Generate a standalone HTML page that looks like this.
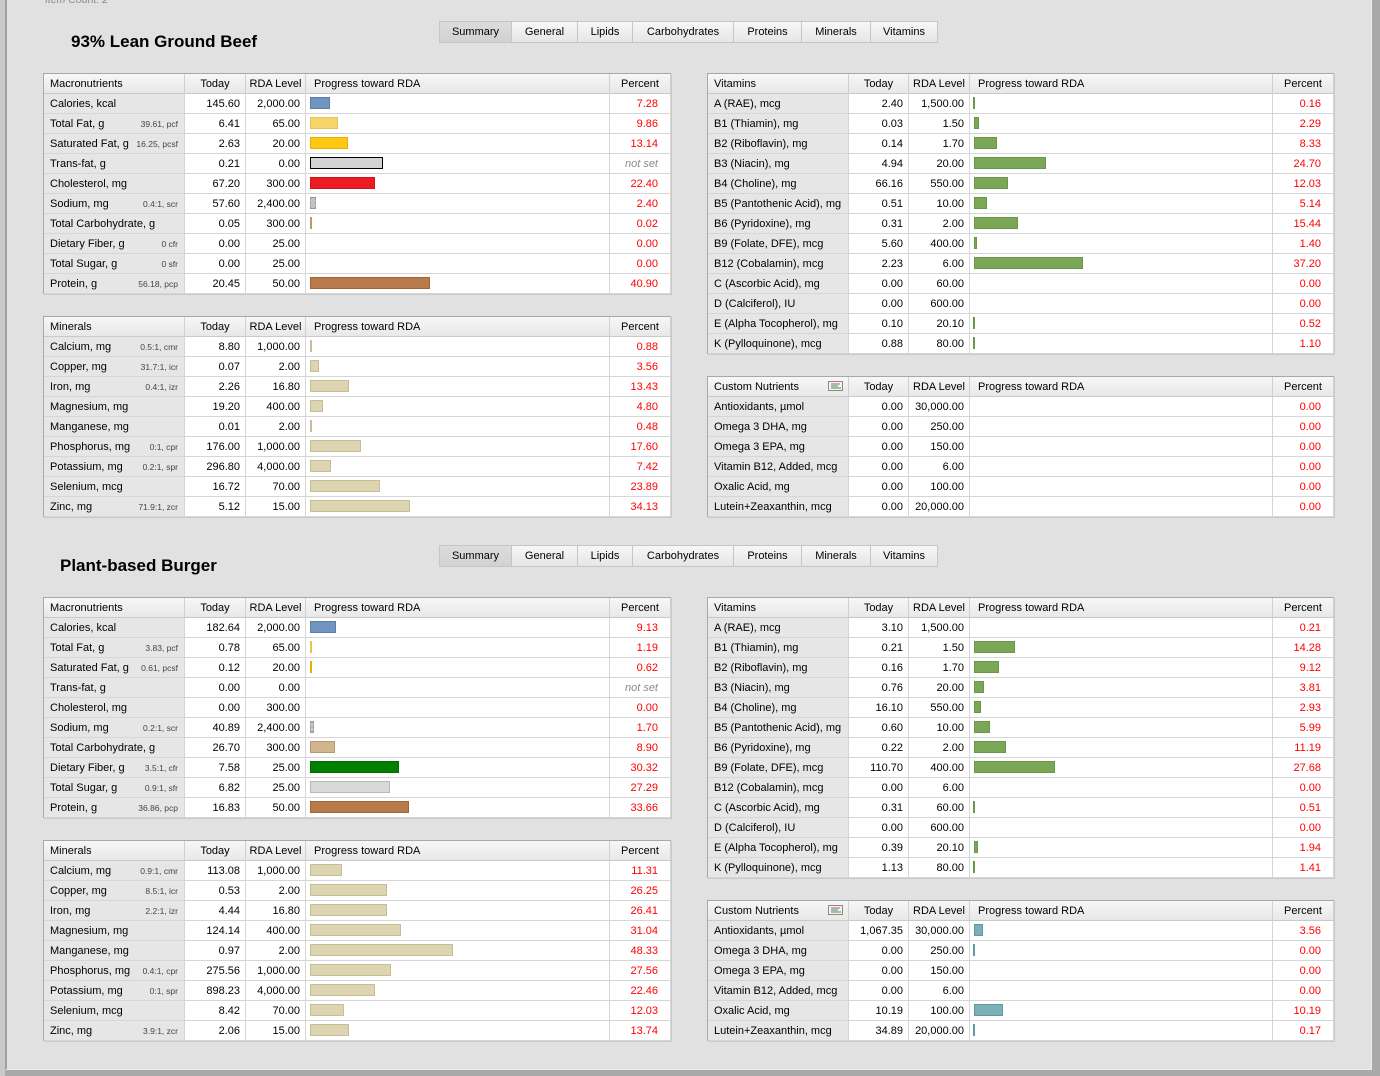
<!DOCTYPE html>
<html><head><meta charset="utf-8">
<style>
html,body{margin:0;padding:0}
body{width:1380px;height:1076px;overflow:hidden;background:#a9a9a9;font-family:"Liberation Sans",sans-serif;font-size:11px;color:#000;position:relative}
#lft{position:absolute;left:0;top:0;width:5px;height:1076px;background:#c9c9c9}
#pnl{position:absolute;left:5px;top:0;width:1364px;height:1069px;background:#e1e1e1;border-left:2px solid #a0a0a0;border-right:1px solid #efefef;border-bottom:1px solid #efefef}
.ic{position:absolute;left:45px;top:-10px;line-height:20px;font-style:italic;color:#8a8a8a;font-size:10.5px}
.ttl{position:absolute;font-weight:bold;font-size:17px;line-height:20px;color:#000}
.tabs{position:absolute;left:439px;display:flex;height:22px}
.tabs div{box-sizing:border-box;height:22px;line-height:21px;text-align:center;border:1px solid #c6c6c6;border-left:none;background:linear-gradient(#f7f7f7,#e6e6e6);font-size:11px}
.tabs div:first-child{border-left:1px solid #c6c6c6;background:linear-gradient(#dcdcdc,#d2d2d2)}
.t{position:absolute;border-top:1px solid #a8a8a8;border-left:1px solid #a8a8a8;box-shadow:1px 1px 0 #cacaca}
.r{display:flex;height:20px}
.r>div{flex:0 0 auto;box-sizing:border-box;height:20px;border-right:1px solid #d6d6d6;border-bottom:1px solid #d6d6d6;line-height:21px;white-space:nowrap;overflow:hidden;position:relative;background:#fff}
.L .c1{width:141px}.L .c2{width:61px}.L .c3{width:60px}.L .c4{width:304px}.L .c5{width:61px}
.R .c1{width:141px}.R .c2{width:60px}.R .c3{width:61px}.R .c4{width:303px}.R .c5{width:61px}
.r .c1{background:#e6e6e6;padding-left:6px}
.r .c2,.r .c3{text-align:right;padding-right:5px}
.r .c5{text-align:right;padding-right:12px;color:#f00}
.r .c5 em{color:#8a8a8a;font-style:italic}
.h>div{background:linear-gradient(#f7f7f7,#e8e8e8)!important;border-right-color:#d0d0d0;border-bottom-color:#c9c9c9}
.h .c2,.h .c3,.h .c5{text-align:center;padding:0}
.r.h .c5{color:#000;padding:0;text-align:center}
.h .c4{padding-left:8px}
.c1 s{text-decoration:none;position:absolute;right:6px;top:0;font-size:8.5px;color:#444}
.b{position:absolute;left:4px;top:3px;height:12px;box-sizing:border-box;border:1px solid}
.cal{background:#7194c0;border-color:#5b7eaa}
.fat{background:#f7d469;border-color:#e9c24f}
.sat{background:#ffc813;border-color:#e6b000}
.trn{background:#d3d3d3;border-color:#000}
.chl{background:#ed1c24;border-color:#d4121a}
.sod{background:#c3c3c3;border:1px dashed #999}
.crb{background:#d1b58e;border-color:#b89a70}
.fib{background:#008000;border-color:#006a00}
.sug{background:#d9d9d9;border-color:#b9b9b9}
.pro{background:#b97a4b;border-color:#9e6536}
.min{background:#ddd4b2;border-color:#c9bd95}
.vit{background:#7aa756;border-color:#6a9848}
.cus{background:#7cb0b8;border-color:#5e9aa3}
.ico{position:absolute;left:120px;top:4px;width:15px;height:10px;box-sizing:border-box;border:1px solid #8a8a8a;background:#f4f4f4}
.ico i{position:absolute;left:2px;height:2px}
</style></head><body>
<div id="lft"></div>
<div id="pnl"></div>
<div class="ic">Item Count: 2</div>

<!-- ===== BLOCK 1 ===== -->
<div class="ttl" style="left:71px;top:32px">93% Lean Ground Beef</div>
<div class="tabs" style="top:21px"><div style="width:73px">Summary</div><div style="width:66px">General</div><div style="width:55px">Lipids</div><div style="width:101px">Carbohydrates</div><div style="width:68px">Proteins</div><div style="width:69px">Minerals</div><div style="width:67px">Vitamins</div></div>

<div class="t L" style="left:43px;top:73px">
<div class="r h"><div class="c1">Macronutrients</div><div class="c2">Today</div><div class="c3">RDA Level</div><div class="c4">Progress toward RDA</div><div class="c5">Percent</div></div>
<div class="r"><div class="c1">Calories, kcal</div><div class="c2">145.60</div><div class="c3">2,000.00</div><div class="c4"><i class="b cal" style="width:20px"></i></div><div class="c5">7.28</div></div>
<div class="r"><div class="c1">Total Fat, g<s>39.61, pcf</s></div><div class="c2">6.41</div><div class="c3">65.00</div><div class="c4"><i class="b fat" style="width:28px"></i></div><div class="c5">9.86</div></div>
<div class="r"><div class="c1">Saturated Fat, g<s>16.25, pcsf</s></div><div class="c2">2.63</div><div class="c3">20.00</div><div class="c4"><i class="b sat" style="width:38px"></i></div><div class="c5">13.14</div></div>
<div class="r"><div class="c1">Trans-fat, g</div><div class="c2">0.21</div><div class="c3">0.00</div><div class="c4"><i class="b trn" style="width:73px"></i></div><div class="c5"><em>not set</em></div></div>
<div class="r"><div class="c1">Cholesterol, mg</div><div class="c2">67.20</div><div class="c3">300.00</div><div class="c4"><i class="b chl" style="width:65px"></i></div><div class="c5">22.40</div></div>
<div class="r"><div class="c1">Sodium, mg<s>0.4:1, scr</s></div><div class="c2">57.60</div><div class="c3">2,400.00</div><div class="c4"><i class="b sod" style="width:6px"></i></div><div class="c5">2.40</div></div>
<div class="r"><div class="c1">Total Carbohydrate, g</div><div class="c2">0.05</div><div class="c3">300.00</div><div class="c4"><i class="b crb" style="width:2px"></i></div><div class="c5">0.02</div></div>
<div class="r"><div class="c1">Dietary Fiber, g<s>0 cfr</s></div><div class="c2">0.00</div><div class="c3">25.00</div><div class="c4"></div><div class="c5">0.00</div></div>
<div class="r"><div class="c1">Total Sugar, g<s>0 sfr</s></div><div class="c2">0.00</div><div class="c3">25.00</div><div class="c4"></div><div class="c5">0.00</div></div>
<div class="r"><div class="c1">Protein, g<s>56.18, pcp</s></div><div class="c2">20.45</div><div class="c3">50.00</div><div class="c4"><i class="b pro" style="width:120px"></i></div><div class="c5">40.90</div></div>
</div>

<div class="t L" style="left:43px;top:316px">
<div class="r h"><div class="c1">Minerals</div><div class="c2">Today</div><div class="c3">RDA Level</div><div class="c4">Progress toward RDA</div><div class="c5">Percent</div></div>
<div class="r"><div class="c1">Calcium, mg<s>0.5:1, cmr</s></div><div class="c2">8.80</div><div class="c3">1,000.00</div><div class="c4"><i class="b min" style="width:2px"></i></div><div class="c5">0.88</div></div>
<div class="r"><div class="c1">Copper, mg<s>31.7:1, icr</s></div><div class="c2">0.07</div><div class="c3">2.00</div><div class="c4"><i class="b min" style="width:9px"></i></div><div class="c5">3.56</div></div>
<div class="r"><div class="c1">Iron, mg<s>0.4:1, izr</s></div><div class="c2">2.26</div><div class="c3">16.80</div><div class="c4"><i class="b min" style="width:39px"></i></div><div class="c5">13.43</div></div>
<div class="r"><div class="c1">Magnesium, mg</div><div class="c2">19.20</div><div class="c3">400.00</div><div class="c4"><i class="b min" style="width:13px"></i></div><div class="c5">4.80</div></div>
<div class="r"><div class="c1">Manganese, mg</div><div class="c2">0.01</div><div class="c3">2.00</div><div class="c4"><i class="b min" style="width:2px"></i></div><div class="c5">0.48</div></div>
<div class="r"><div class="c1">Phosphorus, mg<s>0:1, cpr</s></div><div class="c2">176.00</div><div class="c3">1,000.00</div><div class="c4"><i class="b min" style="width:51px"></i></div><div class="c5">17.60</div></div>
<div class="r"><div class="c1">Potassium, mg<s>0.2:1, spr</s></div><div class="c2">296.80</div><div class="c3">4,000.00</div><div class="c4"><i class="b min" style="width:21px"></i></div><div class="c5">7.42</div></div>
<div class="r"><div class="c1">Selenium, mcg</div><div class="c2">16.72</div><div class="c3">70.00</div><div class="c4"><i class="b min" style="width:70px"></i></div><div class="c5">23.89</div></div>
<div class="r"><div class="c1">Zinc, mg<s>71.9:1, zcr</s></div><div class="c2">5.12</div><div class="c3">15.00</div><div class="c4"><i class="b min" style="width:100px"></i></div><div class="c5">34.13</div></div>
</div>

<div class="t R" style="left:707px;top:73px">
<div class="r h"><div class="c1">Vitamins</div><div class="c2">Today</div><div class="c3">RDA Level</div><div class="c4">Progress toward RDA</div><div class="c5">Percent</div></div>
<div class="r"><div class="c1">A (RAE), mcg</div><div class="c2">2.40</div><div class="c3">1,500.00</div><div class="c4"><i class="b vit" style="width:2px;left:3px"></i></div><div class="c5">0.16</div></div>
<div class="r"><div class="c1">B1 (Thiamin), mg</div><div class="c2">0.03</div><div class="c3">1.50</div><div class="c4"><i class="b vit" style="width:5px"></i></div><div class="c5">2.29</div></div>
<div class="r"><div class="c1">B2 (Riboflavin), mg</div><div class="c2">0.14</div><div class="c3">1.70</div><div class="c4"><i class="b vit" style="width:23px"></i></div><div class="c5">8.33</div></div>
<div class="r"><div class="c1">B3 (Niacin), mg</div><div class="c2">4.94</div><div class="c3">20.00</div><div class="c4"><i class="b vit" style="width:72px"></i></div><div class="c5">24.70</div></div>
<div class="r"><div class="c1">B4 (Choline), mg</div><div class="c2">66.16</div><div class="c3">550.00</div><div class="c4"><i class="b vit" style="width:34px"></i></div><div class="c5">12.03</div></div>
<div class="r"><div class="c1">B5 (Pantothenic Acid), mg</div><div class="c2">0.51</div><div class="c3">10.00</div><div class="c4"><i class="b vit" style="width:13px"></i></div><div class="c5">5.14</div></div>
<div class="r"><div class="c1">B6 (Pyridoxine), mg</div><div class="c2">0.31</div><div class="c3">2.00</div><div class="c4"><i class="b vit" style="width:44px"></i></div><div class="c5">15.44</div></div>
<div class="r"><div class="c1">B9 (Folate, DFE), mcg</div><div class="c2">5.60</div><div class="c3">400.00</div><div class="c4"><i class="b vit" style="width:3px"></i></div><div class="c5">1.40</div></div>
<div class="r"><div class="c1">B12 (Cobalamin), mcg</div><div class="c2">2.23</div><div class="c3">6.00</div><div class="c4"><i class="b vit" style="width:109px"></i></div><div class="c5">37.20</div></div>
<div class="r"><div class="c1">C (Ascorbic Acid), mg</div><div class="c2">0.00</div><div class="c3">60.00</div><div class="c4"></div><div class="c5">0.00</div></div>
<div class="r"><div class="c1">D (Calciferol), IU</div><div class="c2">0.00</div><div class="c3">600.00</div><div class="c4"></div><div class="c5">0.00</div></div>
<div class="r"><div class="c1">E (Alpha Tocopherol), mg</div><div class="c2">0.10</div><div class="c3">20.10</div><div class="c4"><i class="b vit" style="width:2px;left:3px"></i></div><div class="c5">0.52</div></div>
<div class="r"><div class="c1">K (Pylloquinone), mcg</div><div class="c2">0.88</div><div class="c3">80.00</div><div class="c4"><i class="b vit" style="width:2px;left:3px"></i></div><div class="c5">1.10</div></div>
</div>

<div class="t R" style="left:707px;top:376px">
<div class="r h"><div class="c1">Custom Nutrients<span class="ico"><i style="top:1px;width:9px;background:#e4a0a8"></i><i style="top:3px;width:7px;background:#8fc0c6"></i><i style="top:5px;width:10px;background:#9cc58a"></i></span></div><div class="c2">Today</div><div class="c3">RDA Level</div><div class="c4">Progress toward RDA</div><div class="c5">Percent</div></div>
<div class="r"><div class="c1">Antioxidants, µmol</div><div class="c2">0.00</div><div class="c3">30,000.00</div><div class="c4"></div><div class="c5">0.00</div></div>
<div class="r"><div class="c1">Omega 3 DHA, mg</div><div class="c2">0.00</div><div class="c3">250.00</div><div class="c4"></div><div class="c5">0.00</div></div>
<div class="r"><div class="c1">Omega 3 EPA, mg</div><div class="c2">0.00</div><div class="c3">150.00</div><div class="c4"></div><div class="c5">0.00</div></div>
<div class="r"><div class="c1">Vitamin B12, Added, mcg</div><div class="c2">0.00</div><div class="c3">6.00</div><div class="c4"></div><div class="c5">0.00</div></div>
<div class="r"><div class="c1">Oxalic Acid, mg</div><div class="c2">0.00</div><div class="c3">100.00</div><div class="c4"></div><div class="c5">0.00</div></div>
<div class="r"><div class="c1">Lutein+Zeaxanthin, mcg</div><div class="c2">0.00</div><div class="c3">20,000.00</div><div class="c4"></div><div class="c5">0.00</div></div>
</div>

<!-- ===== BLOCK 2 ===== -->
<div class="ttl" style="left:60px;top:556px">Plant-based Burger</div>
<div class="tabs" style="top:545px"><div style="width:73px">Summary</div><div style="width:66px">General</div><div style="width:55px">Lipids</div><div style="width:101px">Carbohydrates</div><div style="width:68px">Proteins</div><div style="width:69px">Minerals</div><div style="width:67px">Vitamins</div></div>

<div class="t L" style="left:43px;top:597px">
<div class="r h"><div class="c1">Macronutrients</div><div class="c2">Today</div><div class="c3">RDA Level</div><div class="c4">Progress toward RDA</div><div class="c5">Percent</div></div>
<div class="r"><div class="c1">Calories, kcal</div><div class="c2">182.64</div><div class="c3">2,000.00</div><div class="c4"><i class="b cal" style="width:26px"></i></div><div class="c5">9.13</div></div>
<div class="r"><div class="c1">Total Fat, g<s>3.83, pcf</s></div><div class="c2">0.78</div><div class="c3">65.00</div><div class="c4"><i class="b fat" style="width:2px"></i></div><div class="c5">1.19</div></div>
<div class="r"><div class="c1">Saturated Fat, g<s>0.61, pcsf</s></div><div class="c2">0.12</div><div class="c3">20.00</div><div class="c4"><i class="b sat" style="width:2px"></i></div><div class="c5">0.62</div></div>
<div class="r"><div class="c1">Trans-fat, g</div><div class="c2">0.00</div><div class="c3">0.00</div><div class="c4"></div><div class="c5"><em>not set</em></div></div>
<div class="r"><div class="c1">Cholesterol, mg</div><div class="c2">0.00</div><div class="c3">300.00</div><div class="c4"></div><div class="c5">0.00</div></div>
<div class="r"><div class="c1">Sodium, mg<s>0.2:1, scr</s></div><div class="c2">40.89</div><div class="c3">2,400.00</div><div class="c4"><i class="b sod" style="width:4px"></i></div><div class="c5">1.70</div></div>
<div class="r"><div class="c1">Total Carbohydrate, g</div><div class="c2">26.70</div><div class="c3">300.00</div><div class="c4"><i class="b crb" style="width:25px"></i></div><div class="c5">8.90</div></div>
<div class="r"><div class="c1">Dietary Fiber, g<s>3.5:1, cfr</s></div><div class="c2">7.58</div><div class="c3">25.00</div><div class="c4"><i class="b fib" style="width:89px"></i></div><div class="c5">30.32</div></div>
<div class="r"><div class="c1">Total Sugar, g<s>0.9:1, sfr</s></div><div class="c2">6.82</div><div class="c3">25.00</div><div class="c4"><i class="b sug" style="width:80px"></i></div><div class="c5">27.29</div></div>
<div class="r"><div class="c1">Protein, g<s>36.86, pcp</s></div><div class="c2">16.83</div><div class="c3">50.00</div><div class="c4"><i class="b pro" style="width:99px"></i></div><div class="c5">33.66</div></div>
</div>

<div class="t L" style="left:43px;top:840px">
<div class="r h"><div class="c1">Minerals</div><div class="c2">Today</div><div class="c3">RDA Level</div><div class="c4">Progress toward RDA</div><div class="c5">Percent</div></div>
<div class="r"><div class="c1">Calcium, mg<s>0.9:1, cmr</s></div><div class="c2">113.08</div><div class="c3">1,000.00</div><div class="c4"><i class="b min" style="width:32px"></i></div><div class="c5">11.31</div></div>
<div class="r"><div class="c1">Copper, mg<s>8.5:1, icr</s></div><div class="c2">0.53</div><div class="c3">2.00</div><div class="c4"><i class="b min" style="width:77px"></i></div><div class="c5">26.25</div></div>
<div class="r"><div class="c1">Iron, mg<s>2.2:1, izr</s></div><div class="c2">4.44</div><div class="c3">16.80</div><div class="c4"><i class="b min" style="width:77px"></i></div><div class="c5">26.41</div></div>
<div class="r"><div class="c1">Magnesium, mg</div><div class="c2">124.14</div><div class="c3">400.00</div><div class="c4"><i class="b min" style="width:91px"></i></div><div class="c5">31.04</div></div>
<div class="r"><div class="c1">Manganese, mg</div><div class="c2">0.97</div><div class="c3">2.00</div><div class="c4"><i class="b min" style="width:143px"></i></div><div class="c5">48.33</div></div>
<div class="r"><div class="c1">Phosphorus, mg<s>0.4:1, cpr</s></div><div class="c2">275.56</div><div class="c3">1,000.00</div><div class="c4"><i class="b min" style="width:81px"></i></div><div class="c5">27.56</div></div>
<div class="r"><div class="c1">Potassium, mg<s>0:1, spr</s></div><div class="c2">898.23</div><div class="c3">4,000.00</div><div class="c4"><i class="b min" style="width:65px"></i></div><div class="c5">22.46</div></div>
<div class="r"><div class="c1">Selenium, mcg</div><div class="c2">8.42</div><div class="c3">70.00</div><div class="c4"><i class="b min" style="width:34px"></i></div><div class="c5">12.03</div></div>
<div class="r"><div class="c1">Zinc, mg<s>3.9:1, zcr</s></div><div class="c2">2.06</div><div class="c3">15.00</div><div class="c4"><i class="b min" style="width:39px"></i></div><div class="c5">13.74</div></div>
</div>

<div class="t R" style="left:707px;top:597px">
<div class="r h"><div class="c1">Vitamins</div><div class="c2">Today</div><div class="c3">RDA Level</div><div class="c4">Progress toward RDA</div><div class="c5">Percent</div></div>
<div class="r"><div class="c1">A (RAE), mcg</div><div class="c2">3.10</div><div class="c3">1,500.00</div><div class="c4"></div><div class="c5">0.21</div></div>
<div class="r"><div class="c1">B1 (Thiamin), mg</div><div class="c2">0.21</div><div class="c3">1.50</div><div class="c4"><i class="b vit" style="width:41px"></i></div><div class="c5">14.28</div></div>
<div class="r"><div class="c1">B2 (Riboflavin), mg</div><div class="c2">0.16</div><div class="c3">1.70</div><div class="c4"><i class="b vit" style="width:25px"></i></div><div class="c5">9.12</div></div>
<div class="r"><div class="c1">B3 (Niacin), mg</div><div class="c2">0.76</div><div class="c3">20.00</div><div class="c4"><i class="b vit" style="width:10px"></i></div><div class="c5">3.81</div></div>
<div class="r"><div class="c1">B4 (Choline), mg</div><div class="c2">16.10</div><div class="c3">550.00</div><div class="c4"><i class="b vit" style="width:7px"></i></div><div class="c5">2.93</div></div>
<div class="r"><div class="c1">B5 (Pantothenic Acid), mg</div><div class="c2">0.60</div><div class="c3">10.00</div><div class="c4"><i class="b vit" style="width:16px"></i></div><div class="c5">5.99</div></div>
<div class="r"><div class="c1">B6 (Pyridoxine), mg</div><div class="c2">0.22</div><div class="c3">2.00</div><div class="c4"><i class="b vit" style="width:32px"></i></div><div class="c5">11.19</div></div>
<div class="r"><div class="c1">B9 (Folate, DFE), mcg</div><div class="c2">110.70</div><div class="c3">400.00</div><div class="c4"><i class="b vit" style="width:81px"></i></div><div class="c5">27.68</div></div>
<div class="r"><div class="c1">B12 (Cobalamin), mcg</div><div class="c2">0.00</div><div class="c3">6.00</div><div class="c4"></div><div class="c5">0.00</div></div>
<div class="r"><div class="c1">C (Ascorbic Acid), mg</div><div class="c2">0.31</div><div class="c3">60.00</div><div class="c4"><i class="b vit" style="width:2px;left:3px"></i></div><div class="c5">0.51</div></div>
<div class="r"><div class="c1">D (Calciferol), IU</div><div class="c2">0.00</div><div class="c3">600.00</div><div class="c4"></div><div class="c5">0.00</div></div>
<div class="r"><div class="c1">E (Alpha Tocopherol), mg</div><div class="c2">0.39</div><div class="c3">20.10</div><div class="c4"><i class="b vit" style="width:4px"></i></div><div class="c5">1.94</div></div>
<div class="r"><div class="c1">K (Pylloquinone), mcg</div><div class="c2">1.13</div><div class="c3">80.00</div><div class="c4"><i class="b vit" style="width:2px;left:3px"></i></div><div class="c5">1.41</div></div>
</div>

<div class="t R" style="left:707px;top:900px">
<div class="r h"><div class="c1">Custom Nutrients<span class="ico"><i style="top:1px;width:9px;background:#e4a0a8"></i><i style="top:3px;width:7px;background:#8fc0c6"></i><i style="top:5px;width:10px;background:#9cc58a"></i></span></div><div class="c2">Today</div><div class="c3">RDA Level</div><div class="c4">Progress toward RDA</div><div class="c5">Percent</div></div>
<div class="r"><div class="c1">Antioxidants, µmol</div><div class="c2">1,067.35</div><div class="c3">30,000.00</div><div class="c4"><i class="b cus" style="width:9px"></i></div><div class="c5">3.56</div></div>
<div class="r"><div class="c1">Omega 3 DHA, mg</div><div class="c2">0.00</div><div class="c3">250.00</div><div class="c4"><i class="b cus" style="width:2px;left:3px"></i></div><div class="c5">0.00</div></div>
<div class="r"><div class="c1">Omega 3 EPA, mg</div><div class="c2">0.00</div><div class="c3">150.00</div><div class="c4"></div><div class="c5">0.00</div></div>
<div class="r"><div class="c1">Vitamin B12, Added, mcg</div><div class="c2">0.00</div><div class="c3">6.00</div><div class="c4"></div><div class="c5">0.00</div></div>
<div class="r"><div class="c1">Oxalic Acid, mg</div><div class="c2">10.19</div><div class="c3">100.00</div><div class="c4"><i class="b cus" style="width:29px"></i></div><div class="c5">10.19</div></div>
<div class="r"><div class="c1">Lutein+Zeaxanthin, mcg</div><div class="c2">34.89</div><div class="c3">20,000.00</div><div class="c4"><i class="b cus" style="width:2px;left:3px"></i></div><div class="c5">0.17</div></div>
</div>
</body></html>
